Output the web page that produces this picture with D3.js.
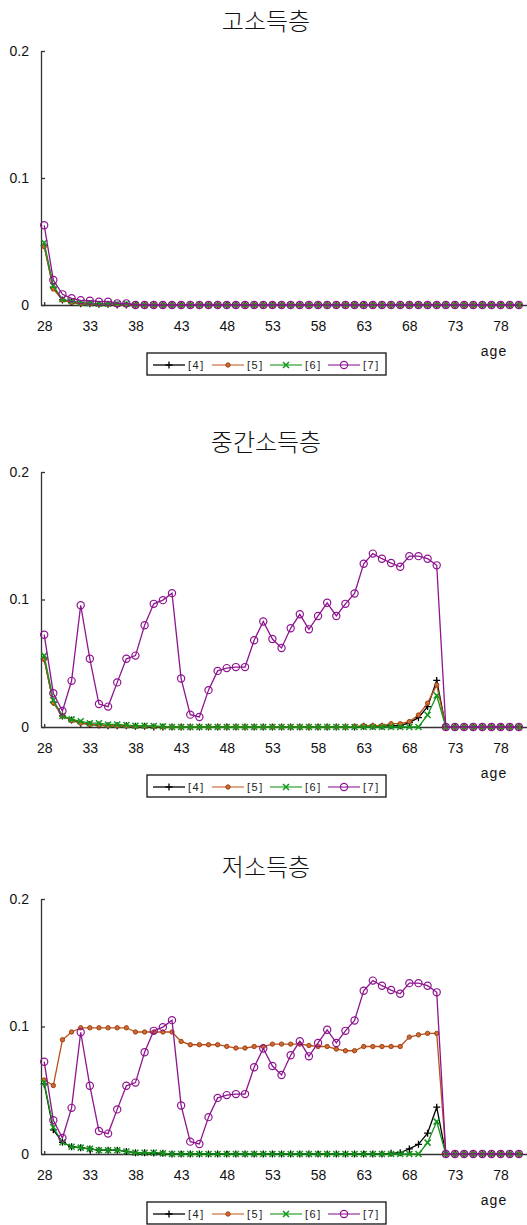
<!DOCTYPE html>
<html>
<head>
<meta charset="utf-8">
<script src="https://cdn.jsdelivr.net/npm/d3@7"></script>
<style>
  html, body { margin: 0; padding: 0; background: #fff; }
  svg { display: block; }
  .title { font-family: "Noto Sans CJK KR", sans-serif; font-size: 24px; font-weight: 300; fill: #111; }
  .axis text { font-family: "Liberation Sans", Arial, sans-serif; font-size: 14px; fill: #111; }
  .axis path, .axis line { stroke: #333; stroke-width: 1.3; }
  .age { font-family: "Liberation Sans", Arial, sans-serif; font-size: 14px; letter-spacing: 1px; fill: #111; }
  .leg text { font-family: "Liberation Sans", Arial, sans-serif; font-size: 11px; letter-spacing: 1.5px; fill: #222; }
</style>
</head>
<body>
<svg id="chart" width="527" height="1225"></svg>
<script>
// ages 28..80
const ages = d3.range(28, 81);
const xTicks = [28, 33, 38, 43, 48, 53, 58, 63, 68, 73, 78];
const yTicks = [0, 0.1, 0.2];
const seriesNames = ["[4]", "[5]", "[6]", "[7]"];
const panelTitles = ["고소득층", "중간소득층", "저소득층"];

// 고소득층
const hi4 = [0.047, 0.014, 0.004, 0.002, 0.001, 0.001, 0.0005, 0.0005, 0, 0,
  0, 0, 0, 0, 0, 0, 0, 0, 0, 0,
  0, 0, 0, 0, 0, 0, 0, 0, 0, 0,
  0, 0, 0, 0, 0, 0, 0, 0, 0, 0,
  0, 0, 0, 0, 0, 0, 0, 0, 0, 0,
  0, 0, 0];
const hi5 = [0.046, 0.0126, 0.004, 0.002, 0.001, 0.001, 0.0005, 0.0005, 0, 0,
  0, 0, 0, 0, 0, 0, 0, 0, 0, 0,
  0, 0, 0, 0, 0, 0, 0, 0, 0, 0,
  0, 0, 0, 0, 0, 0, 0, 0, 0, 0,
  0, 0, 0, 0, 0, 0, 0, 0, 0, 0,
  0, 0, 0];
const hi6 = [0.049, 0.015, 0.0045, 0.003, 0.002, 0.0015, 0.001, 0.001, 0.001, 0.001,
  0, 0, 0, 0, 0, 0, 0, 0, 0, 0,
  0, 0, 0, 0, 0, 0, 0, 0, 0, 0,
  0, 0, 0, 0, 0, 0, 0, 0, 0, 0,
  0, 0, 0, 0, 0, 0, 0, 0, 0, 0,
  0, 0, 0];
const hi7 = [0.0628, 0.0197, 0.0084, 0.0053, 0.0037, 0.0034, 0.0026, 0.0026, 0.0013, 0.0013,
  0, 0, 0, 0, 0, 0, 0, 0, 0, 0,
  0, 0, 0, 0, 0, 0, 0, 0, 0, 0,
  0, 0, 0, 0, 0, 0, 0, 0, 0, 0,
  0, 0, 0, 0, 0, 0, 0, 0, 0, 0,
  0, 0, 0];

// 중간소득층
const mid4 = [0.0535, 0.0194, 0.0087, 0.0055, 0.003, 0.002, 0.0015, 0.001, 0.001, 0.001,
  0.0005, 0.0005, 0, 0, 0, 0, 0, 0, 0, 0,
  0, 0, 0, 0, 0, 0, 0, 0, 0, 0,
  0, 0, 0, 0, 0, 0.0005, 0.0005, 0.0005, 0.001, 0.001,
  0.0034, 0.0073, 0.016, 0.0365, 0, 0, 0, 0, 0, 0,
  0, 0, 0];
const mid5 = [0.053, 0.019, 0.0087, 0.005, 0.003, 0.002, 0.0015, 0.001, 0.001, 0.0008,
  0.0005, 0.0005, 0.0003, 0, 0, 0, 0, 0, 0, 0,
  0, 0, 0, 0, 0, 0, 0, 0, 0, 0,
  0, 0, 0, 0, 0.0005, 0.001, 0.001, 0.001, 0.0026, 0.0026,
  0.0042, 0.0094, 0.0187, 0.033, 0, 0, 0, 0, 0, 0,
  0, 0, 0];
const mid6 = [0.056, 0.021, 0.0087, 0.006, 0.0045, 0.003, 0.003, 0.002, 0.002, 0.0015,
  0.001, 0.001, 0.0008, 0.0005, 0, 0, 0, 0, 0, 0,
  0, 0, 0, 0, 0, 0, 0, 0, 0, 0,
  0, 0, 0, 0, 0, 0, 0, 0, 0, 0,
  0, 0, 0.0094, 0.0247, 0, 0, 0, 0, 0, 0,
  0, 0, 0];
const mid7 = [0.0724, 0.0265, 0.0126, 0.0362, 0.0955, 0.0535, 0.018, 0.016, 0.035, 0.0535,
  0.056, 0.0798, 0.0966, 0.0995, 0.105, 0.038, 0.0097, 0.0079, 0.0289, 0.044,
  0.0462, 0.047, 0.047, 0.068, 0.0827, 0.069, 0.062, 0.0774, 0.0884, 0.0766,
  0.0871, 0.0974, 0.0871, 0.0966, 0.1047, 0.128, 0.136, 0.132, 0.1286, 0.1257,
  0.134, 0.134, 0.132, 0.1268, 0, 0, 0, 0, 0, 0,
  0, 0, 0];

// 저소득층
const low4 = [0.055, 0.019, 0.0092, 0.0057, 0.005, 0.004, 0.003, 0.003, 0.003, 0.002,
  0.001, 0.001, 0.0008, 0.0005, 0, 0, 0, 0, 0, 0,
  0, 0, 0, 0, 0, 0, 0, 0, 0, 0,
  0, 0, 0, 0, 0, 0, 0, 0, 0.0005, 0.001,
  0.004, 0.0076, 0.0163, 0.0367, 0, 0, 0, 0, 0, 0,
  0, 0, 0];
const low5 = [0.058, 0.0537, 0.0896, 0.0957, 0.099, 0.099, 0.099, 0.099, 0.099, 0.099,
  0.0957, 0.0957, 0.0957, 0.0957, 0.0957, 0.0883, 0.0857, 0.0857, 0.0857, 0.0857,
  0.0844, 0.0831, 0.0831, 0.0843, 0.0843, 0.0862, 0.0862, 0.0862, 0.0862, 0.0851,
  0.0843, 0.0843, 0.0823, 0.081, 0.081, 0.0843, 0.0843, 0.0843, 0.0843, 0.0843,
  0.0917, 0.0935, 0.0946, 0.0946, 0, 0, 0, 0, 0, 0,
  0, 0, 0];
const low6 = [0.056, 0.021, 0.0092, 0.0057, 0.005, 0.004, 0.003, 0.003, 0.003, 0.002,
  0.001, 0.001, 0.001, 0.0005, 0, 0, 0, 0, 0, 0,
  0, 0, 0, 0, 0, 0, 0, 0, 0, 0,
  0, 0, 0, 0, 0, 0, 0, 0, 0, 0,
  0, 0, 0.0089, 0.0254, 0, 0, 0, 0, 0, 0,
  0, 0, 0];
const low7 = [0.0724, 0.0265, 0.0126, 0.0362, 0.0955, 0.0535, 0.018, 0.016, 0.035, 0.0535,
  0.056, 0.0798, 0.0966, 0.0995, 0.105, 0.038, 0.0097, 0.0079, 0.0289, 0.044,
  0.0462, 0.047, 0.047, 0.068, 0.0827, 0.069, 0.062, 0.0774, 0.0884, 0.0766,
  0.0871, 0.0974, 0.0871, 0.0966, 0.1047, 0.128, 0.136, 0.132, 0.1286, 0.1257,
  0.134, 0.134, 0.132, 0.1268, 0, 0, 0, 0, 0, 0,
  0, 0, 0];

const panels = [
  { title: panelTitles[0], series: [hi4, hi5, hi6, hi7], top: 51, bottom: 305, titleY: 30 },
  { title: panelTitles[1], series: [mid4, mid5, mid6, mid7], top: 472, bottom: 727, titleY: 451 },
  { title: panelTitles[2], series: [low4, low5, low6, low7], top: 899, bottom: 1154, titleY: 876 }
];

const colors = ["#000000", "#b9501a", "#12961a", "#8e1490"];
const legendColors = ["#000000", "#d07a4a", "#3aa83a", "#a040a8"];

const svg = d3.select("#chart");
const x = d3.scaleLinear().domain([27.65, 81]).range([41, 528]);

// marker drawers for each series
function drawMarker(g, k, cx, cy) {
  const c = colors[k];
  if (k === 0) {
    g.append("path").attr("d", `M${cx - 3.5},${cy}H${cx + 3.5}M${cx},${cy - 3.5}V${cy + 3.5}`)
      .attr("stroke", c).attr("stroke-width", 1.3).attr("fill", "none");
  } else if (k === 1) {
    g.append("circle").attr("cx", cx).attr("cy", cy).attr("r", 2.2)
      .attr("fill", "#cf6a30").attr("stroke", "#973a0e").attr("stroke-width", 0.9);
  } else if (k === 2) {
    g.append("path").attr("d", `M${cx - 3},${cy - 3}L${cx + 3},${cy + 3}M${cx - 3},${cy + 3}L${cx + 3},${cy - 3}`)
      .attr("stroke", c).attr("stroke-width", 1.5).attr("fill", "none");
  } else {
    g.append("circle").attr("cx", cx).attr("cy", cy).attr("r", 3.6)
      .attr("fill", "none").attr("stroke", c).attr("stroke-width", 1.2);
  }
}

panels.forEach(p => {
  const y = d3.scaleLinear().domain([0, 0.2]).range([p.bottom, p.top]);
  const g = svg.append("g");

  g.append("text").attr("class", "title")
    .attr("x", 266).attr("y", p.titleY).attr("text-anchor", "middle").text(p.title);

  // axes
  g.append("g").attr("class", "axis")
    .attr("transform", `translate(0,${p.bottom})`)
    .call(d3.axisBottom(x).tickValues(xTicks).tickSizeInner(-3).tickSizeOuter(0).tickPadding(16))
    .call(a => a.selectAll(".tick line").attr("stroke", "#555").attr("stroke-width", 1));

  g.append("g").attr("class", "axis")
    .attr("transform", `translate(41,0)`)
    .call(d3.axisLeft(y).tickValues(yTicks).tickSizeInner(-4).tickSizeOuter(0).tickPadding(12)
      .tickFormat(d => d === 0 ? "0" : d3.format(".1f")(d)));

  g.append("text").attr("class", "age")
    .attr("x", 494).attr("y", p.bottom + 51).attr("text-anchor", "middle").text("age");

  // series lines and markers
  p.series.forEach((vals, k) => {
    const pts = ages.map((a, i) => [x(a), y(vals[i])]);
    g.append("path").attr("d", d3.line()(pts))
      .attr("fill", "none").attr("stroke", colors[k]).attr("stroke-width", 1.3);
    const mg = g.append("g");
    pts.forEach(([px, py]) => drawMarker(mg, k, px, py));
  });

  // legend
  const ly = p.bottom + 48;
  const lg = g.append("g").attr("class", "leg");
  lg.append("rect").attr("x", 147).attr("y", ly).attr("width", 239).attr("height", 22)
    .attr("fill", "#fff").attr("stroke", "#111").attr("stroke-width", 1.3);
  const itemX = [153, 212, 270, 328];
  seriesNames.forEach((name, k) => {
    const x0 = itemX[k], cy = ly + 12;
    lg.append("line").attr("x1", x0).attr("x2", x0 + 32).attr("y1", cy).attr("y2", cy)
      .attr("stroke", legendColors[k]).attr("stroke-width", 1.3);
    drawMarker(lg, k, x0 + 16, cy);
    lg.append("text").attr("x", x0 + 35).attr("y", cy + 4).text(name);
  });
});
</script>
</body>
</html>
